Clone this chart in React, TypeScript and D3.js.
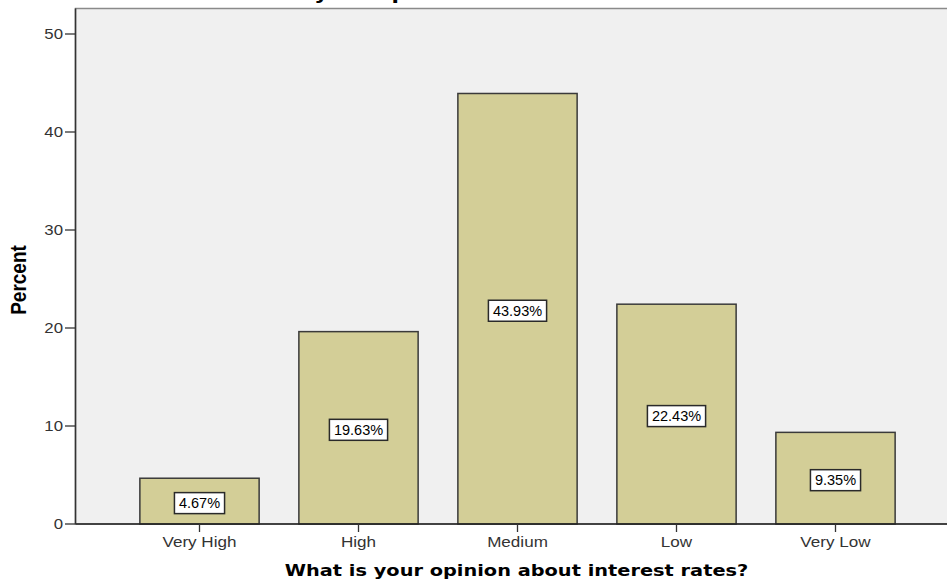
import React, { useEffect, useRef } from "react";
import * as d3 from "d3";

const categories = ["Very High", "High", "Medium", "Low", "Very Low"];
const percents = [4.67, 19.63, 43.93, 22.43, 9.35];
const valueLabels = ["4.67%", "19.63%", "43.93%", "22.43%", "9.35%"];
const yTicks = [0, 10, 20, 30, 40, 50];
const chartTitle = "What is your opinion about interest rates?";
const xTitle = "What is your opinion about interest rates?";
const yTitle = "Percent";

const W = 947;
const H = 583;

export default function App() {
  const ref = useRef<SVGSVGElement | null>(null);

  useEffect(() => {
    const svg = d3.select(ref.current);
    svg.selectAll("*").remove();

    const plotLeft = 75.5;
    const plotTop = 8.5;
    const plotBottom = 524;

    const x = d3
      .scaleBand<string>()
      .domain(categories)
      .range([120, 915])
      .paddingInner(0.25)
      .paddingOuter(0.125);
    const y = d3.scaleLinear().domain([0, 50]).range([524, 34]);

    // chart title (cut off at top, as in the reference)
    svg
      .append("text")
      .attr("x", W / 2)
      .attr("y", -1)
      .attr("text-anchor", "middle")
      .attr("font-family", "DejaVu Sans")
      .attr("font-weight", "bold")
      .attr("font-size", 18)
      .attr("transform", `translate(${W / 2},0) scale(1.2,1) translate(${-W / 2},0)`)
      .attr("fill", "#000")
      .text(chartTitle);

    // plot background
    svg
      .append("rect")
      .attr("x", plotLeft)
      .attr("y", plotTop)
      .attr("width", W + 20 - plotLeft)
      .attr("height", plotBottom - plotTop)
      .attr("fill", "#f0f0f0")
      .attr("stroke", "#8a8a8a")
      .attr("stroke-width", 1.5);

    // bars
    svg
      .append("g")
      .selectAll("rect")
      .data(categories)
      .join("rect")
      .attr("x", (d) => x(d)!)
      .attr("y", (_d, i) => y(percents[i]))
      .attr("width", x.bandwidth())
      .attr("height", (_d, i) => y(0) - y(percents[i]))
      .attr("fill", "#d3ce97")
      .attr("stroke", "#3a3a3a")
      .attr("stroke-width", 1.5);

    // axes lines
    svg
      .append("line")
      .attr("x1", plotLeft)
      .attr("x2", W)
      .attr("y1", y(0))
      .attr("y2", y(0))
      .attr("stroke", "#222")
      .attr("stroke-width", 1.3);
    svg
      .append("line")
      .attr("x1", plotLeft)
      .attr("x2", plotLeft)
      .attr("y1", plotTop)
      .attr("y2", y(0))
      .attr("stroke", "#333")
      .attr("stroke-width", 1.5);

    // y ticks
    const yg = svg.append("g");
    yTicks.forEach((t) => {
      yg.append("line")
        .attr("x1", 65)
        .attr("x2", plotLeft)
        .attr("y1", y(t))
        .attr("y2", y(t))
        .attr("stroke", "#333")
        .attr("stroke-width", 1.3);
      const tx = 63;
      yg.append("text")
        .attr("x", tx)
        .attr("y", y(t))
        .attr("dy", "0.36em")
        .attr("text-anchor", "end")
        .attr("font-family", "Liberation Sans, Arial, sans-serif")
        .attr("font-size", 14)
        .attr("fill", "#333")
        .attr("transform", `translate(${tx},0) scale(1.2,1) translate(${-tx},0)`)
        .text(String(t));
    });

    // x ticks
    const xg = svg.append("g");
    categories.forEach((c) => {
      const cx = x(c)! + x.bandwidth() / 2;
      xg.append("line")
        .attr("x1", cx)
        .attr("x2", cx)
        .attr("y1", y(0))
        .attr("y2", y(0) + 8)
        .attr("stroke", "#333")
        .attr("stroke-width", 1.3);
      xg.append("text")
        .attr("x", cx)
        .attr("y", 547.5)
        .attr("text-anchor", "middle")
        .attr("font-family", "Liberation Sans, Arial, sans-serif")
        .attr("font-size", 14)
        .attr("fill", "#333")
        .attr("transform", `translate(${cx},0) scale(1.22,1) translate(${-cx},0)`)
        .text(c);
    });

    // value labels
    const lg = svg.append("g");
    categories.forEach((c, i) => {
      const cx = x(c)! + x.bandwidth() / 2;
      const cy = (y(percents[i]) + y(0)) / 2 + 2;
      const g = lg.append("g");
      const rect = g.append("rect");
      const txt = g
        .append("text")
        .attr("x", cx)
        .attr("y", cy)
        .attr("dy", "0.36em")
        .attr("text-anchor", "middle")
        .attr("font-family", "Liberation Sans, Arial, sans-serif")
        .attr("font-size", 14.5)
        .attr("fill", "#000")
        .text(valueLabels[i]);
      const node = txt.node() as SVGTextElement;
      const w = node.getComputedTextLength();
      const bw = w + 9;
      const bh = 21;
      rect
        .attr("x", cx - bw / 2)
        .attr("y", cy - bh / 2)
        .attr("width", bw)
        .attr("height", bh)
        .attr("fill", "#fff")
        .attr("stroke", "#2a2a2a")
        .attr("stroke-width", 1.5);
    });

    // x title
    const xtx = 516.5;
    svg
      .append("text")
      .attr("x", xtx)
      .attr("y", 576.5)
      .attr("text-anchor", "middle")
      .attr("font-family", "DejaVu Sans")
      .attr("font-weight", "bold")
      .attr("font-size", 16)
      .attr("fill", "#000")
      .attr("transform", `translate(${xtx},0) scale(1.21,1) translate(${-xtx},0)`)
      .text(xTitle);

    // y title
    svg
      .append("text")
      .attr("transform", `translate(26,280) scale(1.15,1) rotate(-90)`)
      .attr("text-anchor", "middle")
      .attr("font-family", "Liberation Sans, Arial, sans-serif")
      .attr("font-weight", "bold")
      .attr("font-size", 19)
      .attr("fill", "#000")
      .text(yTitle);
  }, []);

  return (
    <svg
      ref={ref}
      width={W}
      height={H}
      style={{ position: "absolute", left: 0, top: 0, background: "#fff" }}
    />
  );
}
